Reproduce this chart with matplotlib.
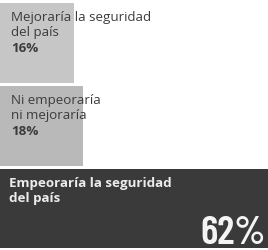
import matplotlib
matplotlib.use("Agg")
import matplotlib.pyplot as plt

labels = [["Mejoraría la seguridad", "del país"],
          ["Ni empeoraría", "ni mejoraría"],
          ["Empeoraría la seguridad", "del país"]]
values = [16, 18, 62]
pct_labels = ["16%", "18%", "62%"]
colors = ["#c6c6c6", "#b9b9b9", "#3a3a3a"]
text_colors = ["#3c3c3c", "#3c3c3c", "#ececec"]

fig = plt.figure(figsize=(2.68, 2.5), dpi=100)
ax = fig.add_axes([0, 0, 1, 1])

bar_h = 0.96
ax.barh(range(len(values)), values, height=bar_h, color=colors)
ax.set_xlim(0, 58)
ax.set_ylim(2.5, -0.52)
ax.axis("off")

font = "Open Sans"
for i, (lines, pct) in enumerate(zip(labels, pct_labels)):
    top = i - bar_h / 2
    x_off = 9 if i == 2 else 11
    weight = "bold" if i == 2 else "normal"
    for j, line in enumerate(lines):
        ax.annotate(line, xy=(0, top), xytext=(x_off, -(18 + 15 * j)),
                    textcoords="offset pixels", ha="left", va="baseline",
                    fontsize=9.6, family=font, weight=weight, color=text_colors[i])
    if i < 2:
        ax.annotate(pct, xy=(0, top), xytext=(x_off, -49),
                    textcoords="offset pixels", ha="left", va="baseline",
                    fontsize=9.6, family=font, weight="bold", color=text_colors[i])
    else:
        ax.annotate(pct, xy=(1, 0), xycoords="axes fraction", xytext=(-2, 6),
                    textcoords="offset pixels", ha="right", va="baseline",
                    fontsize=29, family="Barlow Condensed", weight="semibold",
                    color="#f4f4f4")

fig.savefig("out.png", dpi=100)
